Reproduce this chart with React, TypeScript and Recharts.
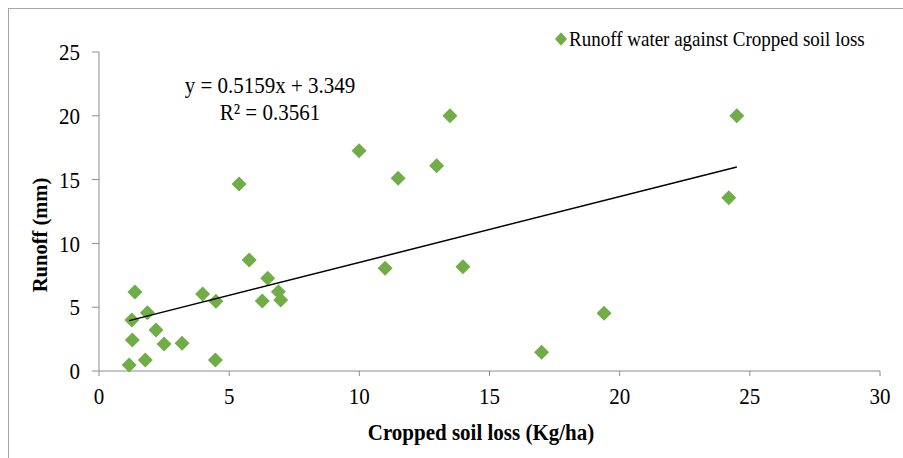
import React from "react";
import { ScatterChart, Scatter, XAxis, YAxis, Legend, Label } from "recharts";

// cropped soil loss (Kg/ha)
const soilLoss = [
  1.16, 1.78, 1.28, 1.38, 1.26, 1.86, 2.19, 2.5, 3.19, 3.98, 4.47, 4.49, 5.38, 5.77,
  6.27, 6.48, 6.89, 6.98, 9.99, 10.99, 11.49, 12.97, 13.48, 13.98, 17.0, 19.4, 24.19, 24.5,
];
// runoff (mm)
const runoff = [
  0.47, 0.86, 2.43, 6.19, 4.0, 4.57, 3.21, 2.12, 2.17, 6.03, 0.86, 5.46, 14.66, 8.7,
  5.49, 7.26, 6.21, 5.56, 17.26, 8.05, 15.1, 16.09, 20.0, 8.17, 1.47, 4.52, 13.58, 20.0,
];
const xTicks = [0, 5, 10, 15, 20, 25, 30];
const yTicks = [0, 5, 10, 15, 20, 25];

// linear trendline as shown on the chart
const slope = 0.5159;
const intercept = 3.349;
const rSquared = "0.3561";

const points = soilLoss.map((x, i) => ({ x, y: runoff[i] }));
const xMin = Math.min(...soilLoss);
const xMax = Math.max(...soilLoss);
const trend = [
  { x: xMin, y: slope * xMin + intercept },
  { x: xMax, y: slope * xMax + intercept },
];

const GREEN = "#70AD47";
const AXIS = "#8c8c8c";
const FONT = "'Liberation Serif', 'Times New Roman', serif";
const STRETCH = 1.12; // text in the original is a bit taller than wide

const Diamond = (props: any) => {
  const { cx, cy } = props;
  const r = 7.5;
  return (
    <polygon
      points={`${cx},${cy - r} ${cx + r},${cy} ${cx},${cy + r} ${cx - r},${cy}`}
      fill={GREEN}
    />
  );
};

const XTick = ({ x, y, payload }: any) => (
  <g transform={`translate(${x},${y}) scale(1,${STRETCH})`}>
    <text x={0} y={0} dy="0.71em" textAnchor="middle" fontFamily={FONT} fontSize={21} fill="#000">
      {payload.value}
    </text>
  </g>
);

const YTick = ({ x, y, payload }: any) => (
  <g transform={`translate(${x},${y}) scale(1,${STRETCH})`}>
    <text x={0} y={0} dy="0.35em" textAnchor="end" fontFamily={FONT} fontSize={21} fill="#000">
      {payload.value}
    </text>
  </g>
);

const renderLegend = () => (
  <div style={{ display: "flex", alignItems: "center", fontFamily: FONT, fontSize: 19, color: "#000", transform: `scaleY(${STRETCH})` }}>
    <svg width={12} height={12} style={{ marginRight: 2 }}>
      <polygon points="6,0 12,6 6,12 0,6" fill={GREEN} />
    </svg>
    <span>Runoff water against Cropped soil loss</span>
  </div>
);

export default function App() {
  return (
    <div style={{ position: "absolute", left: 0, top: 0, width: 903, height: 458, background: "#fff", overflow: "hidden" }}>
      <div
        style={{
          position: "absolute",
          left: 8,
          top: 8,
          width: 1000,
          height: 600,
          border: "1px solid #a6a6a6",
        }}
      />
      <ScatterChart width={903} height={458} margin={{ top: 30, right: 23, bottom: 0, left: 0 }}>
        <XAxis
          type="number"
          dataKey="x"
          domain={[0, 30]}
          ticks={xTicks}
          interval={0}
          height={87}
          stroke={AXIS}
          tickSize={5}
          tickMargin={11}
          tick={<XTick />}
        >
          <Label
            content={() => (
              <g transform={`translate(481,432) scale(1,${STRETCH})`}>
                <text x={0} y={0} dy="0.35em" textAnchor="middle" fontFamily={FONT} fontSize={21} fontWeight="bold" fill="#000">
                  Cropped soil loss (Kg/ha)
                </text>
              </g>
            )}
          />
        </XAxis>
        <YAxis
          type="number"
          dataKey="y"
          domain={[0, 25]}
          ticks={yTicks}
          interval={0}
          width={99}
          stroke={AXIS}
          tickSize={7}
          tickMargin={12}
          tick={<YTick />}
        >
          <Label
            content={() => (
              <g transform="translate(40,235) rotate(-90)">
                <text x={0} y={0} dy="0.35em" textAnchor="middle" fontFamily={FONT} fontSize={20.5} fontWeight="bold" fill="#000">
                  Runoff (mm)
                </text>
              </g>
            )}
          />
        </YAxis>
        <Legend
          verticalAlign="top"
          align="left"
          content={renderLegend}
          wrapperStyle={{ top: 28, left: 555, width: 330 }}
        />
        <Scatter
          name="Runoff water against Cropped soil loss"
          data={points}
          shape={<Diamond />}
          isAnimationActive={false}
        />
        <Scatter
          name="trend"
          data={trend}
          line={{ stroke: "#000", strokeWidth: 1.5 }}
          shape={() => null}
          legendType="none"
          isAnimationActive={false}
        />
      </ScatterChart>
      <div
        style={{
          position: "absolute",
          left: 150,
          top: 75,
          width: 240,
          textAlign: "center",
          fontFamily: FONT,
          fontSize: 21,
          lineHeight: "24px",
          color: "#000",
          transform: `scaleY(${STRETCH})`,
        }}
      >
        <div>y = {slope}x + {intercept}</div>
        <div>R² = {rSquared}</div>
      </div>
    </div>
  );
}
